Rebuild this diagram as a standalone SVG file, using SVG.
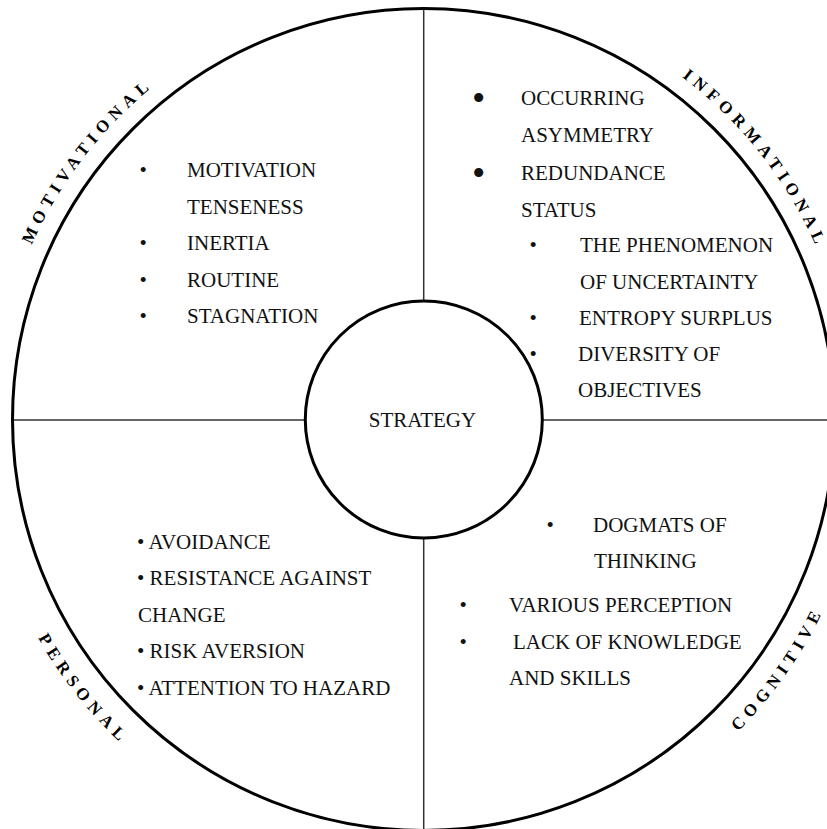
<svg xmlns="http://www.w3.org/2000/svg" width="827" height="829" viewBox="0 0 827 829">
<style>
.t{font-family:"Liberation Serif","Times New Roman",serif;font-size:21px;fill:#111}
.b{font-family:"Liberation Serif","Times New Roman",serif;font-size:21px;fill:#111}
.bb{font-family:"Liberation Serif","Times New Roman",serif;font-size:38px;fill:#111}
.q{font-family:"Liberation Serif","Times New Roman",serif;font-size:17px;font-weight:bold;letter-spacing:5.6px;fill:#000}
.ln{stroke:#333;stroke-width:1.5;fill:none}
</style>
<defs>
<path id="topArc" d="M -5.5,419.5 A 429 429 0 0 1 852.5,419.5"/>
<path id="botArc" d="M -19.5,419.5 A 443 443 0 0 0 866.5,419.5"/>
</defs>
<rect width="827" height="829" fill="#fff"/>
<g id="connectors">
<line class="ln" x1="423.7" y1="9" x2="423.7" y2="829"/>
<line class="ln" x1="12" y1="420" x2="827" y2="420"/>
</g>
<g id="outer">
<circle cx="423.5" cy="419.5" r="411" fill="none" stroke="#000" stroke-width="3"/>
</g>
<g id="strategy">
<circle cx="423.8" cy="419.5" r="118.5" fill="#fff" stroke="#000" stroke-width="3"/>
<text class="t" x="422.5" y="427" text-anchor="middle">STRATEGY</text>
</g>
<g id="motivational">
<text class="q"><textPath href="#topArc" startOffset="281" text-anchor="middle">MOTIVATIONAL</textPath></text>
<text class="b" x="139.5" y="177">•</text><text class="t" x="187" y="177">MOTIVATION</text>
<text class="t" x="187" y="213.5">TENSENESS</text>
<text class="b" x="139.5" y="250">•</text><text class="t" x="187" y="250">INERTIA</text>
<text class="b" x="139.5" y="286.5">•</text><text class="t" x="187" y="286.5">ROUTINE</text>
<text class="b" x="139.5" y="323">•</text><text class="t" x="187" y="323">STAGNATION</text>
</g>
<g id="informational">
<text class="q"><textPath href="#topArc" startOffset="1062" text-anchor="middle">INFORMATIONAL</textPath></text>
<text class="bb" x="472" y="110.5">•</text><text class="t" x="521" y="105">OCCURRING</text>
<text class="t" x="521" y="142">ASYMMETRY</text>
<text class="bb" x="472" y="185.5">•</text><text class="t" x="521" y="180">REDUNDANCE</text>
<text class="t" x="521" y="217">STATUS</text>
<text class="b" x="529.5" y="252">•</text><text class="t" x="580" y="252">THE PHENOMENON</text>
<text class="t" x="580" y="289">OF UNCERTAINTY</text>
<text class="b" x="529.5" y="325">•</text><text class="t" x="579" y="325">ENTROPY SURPLUS</text>
<text class="b" x="529.5" y="361">•</text><text class="t" x="578" y="361">DIVERSITY OF</text>
<text class="t" x="578" y="397">OBJECTIVES</text>
</g>
<g id="personal">
<text class="q"><textPath href="#botArc" startOffset="297" text-anchor="middle">PERSONAL</textPath></text>
<text class="t" x="137" y="548.5">• AVOIDANCE</text>
<text class="t" x="137" y="585">• RESISTANCE AGAINST</text>
<text class="t" x="138" y="622">CHANGE</text>
<text class="t" x="137" y="658">• RISK AVERSION</text>
<text class="t" x="137" y="695">• ATTENTION TO HAZARD</text>
</g>
<g id="cognitive">
<text class="q"><textPath href="#botArc" startOffset="1120" text-anchor="middle">COGNITIVE</textPath></text>
<text class="b" x="546.5" y="532">•</text><text class="t" x="593" y="532">DOGMATS OF</text>
<text class="t" x="594" y="568">THINKING</text>
<text class="b" x="459.5" y="611.5">•</text><text class="t" x="509" y="611.5">VARIOUS PERCEPTION</text>
<text class="b" x="459.5" y="648.5">•</text><text class="t" x="513" y="648.5">LACK OF KNOWLEDGE</text>
<text class="t" x="509" y="685">AND SKILLS</text>
</g>
</svg>
